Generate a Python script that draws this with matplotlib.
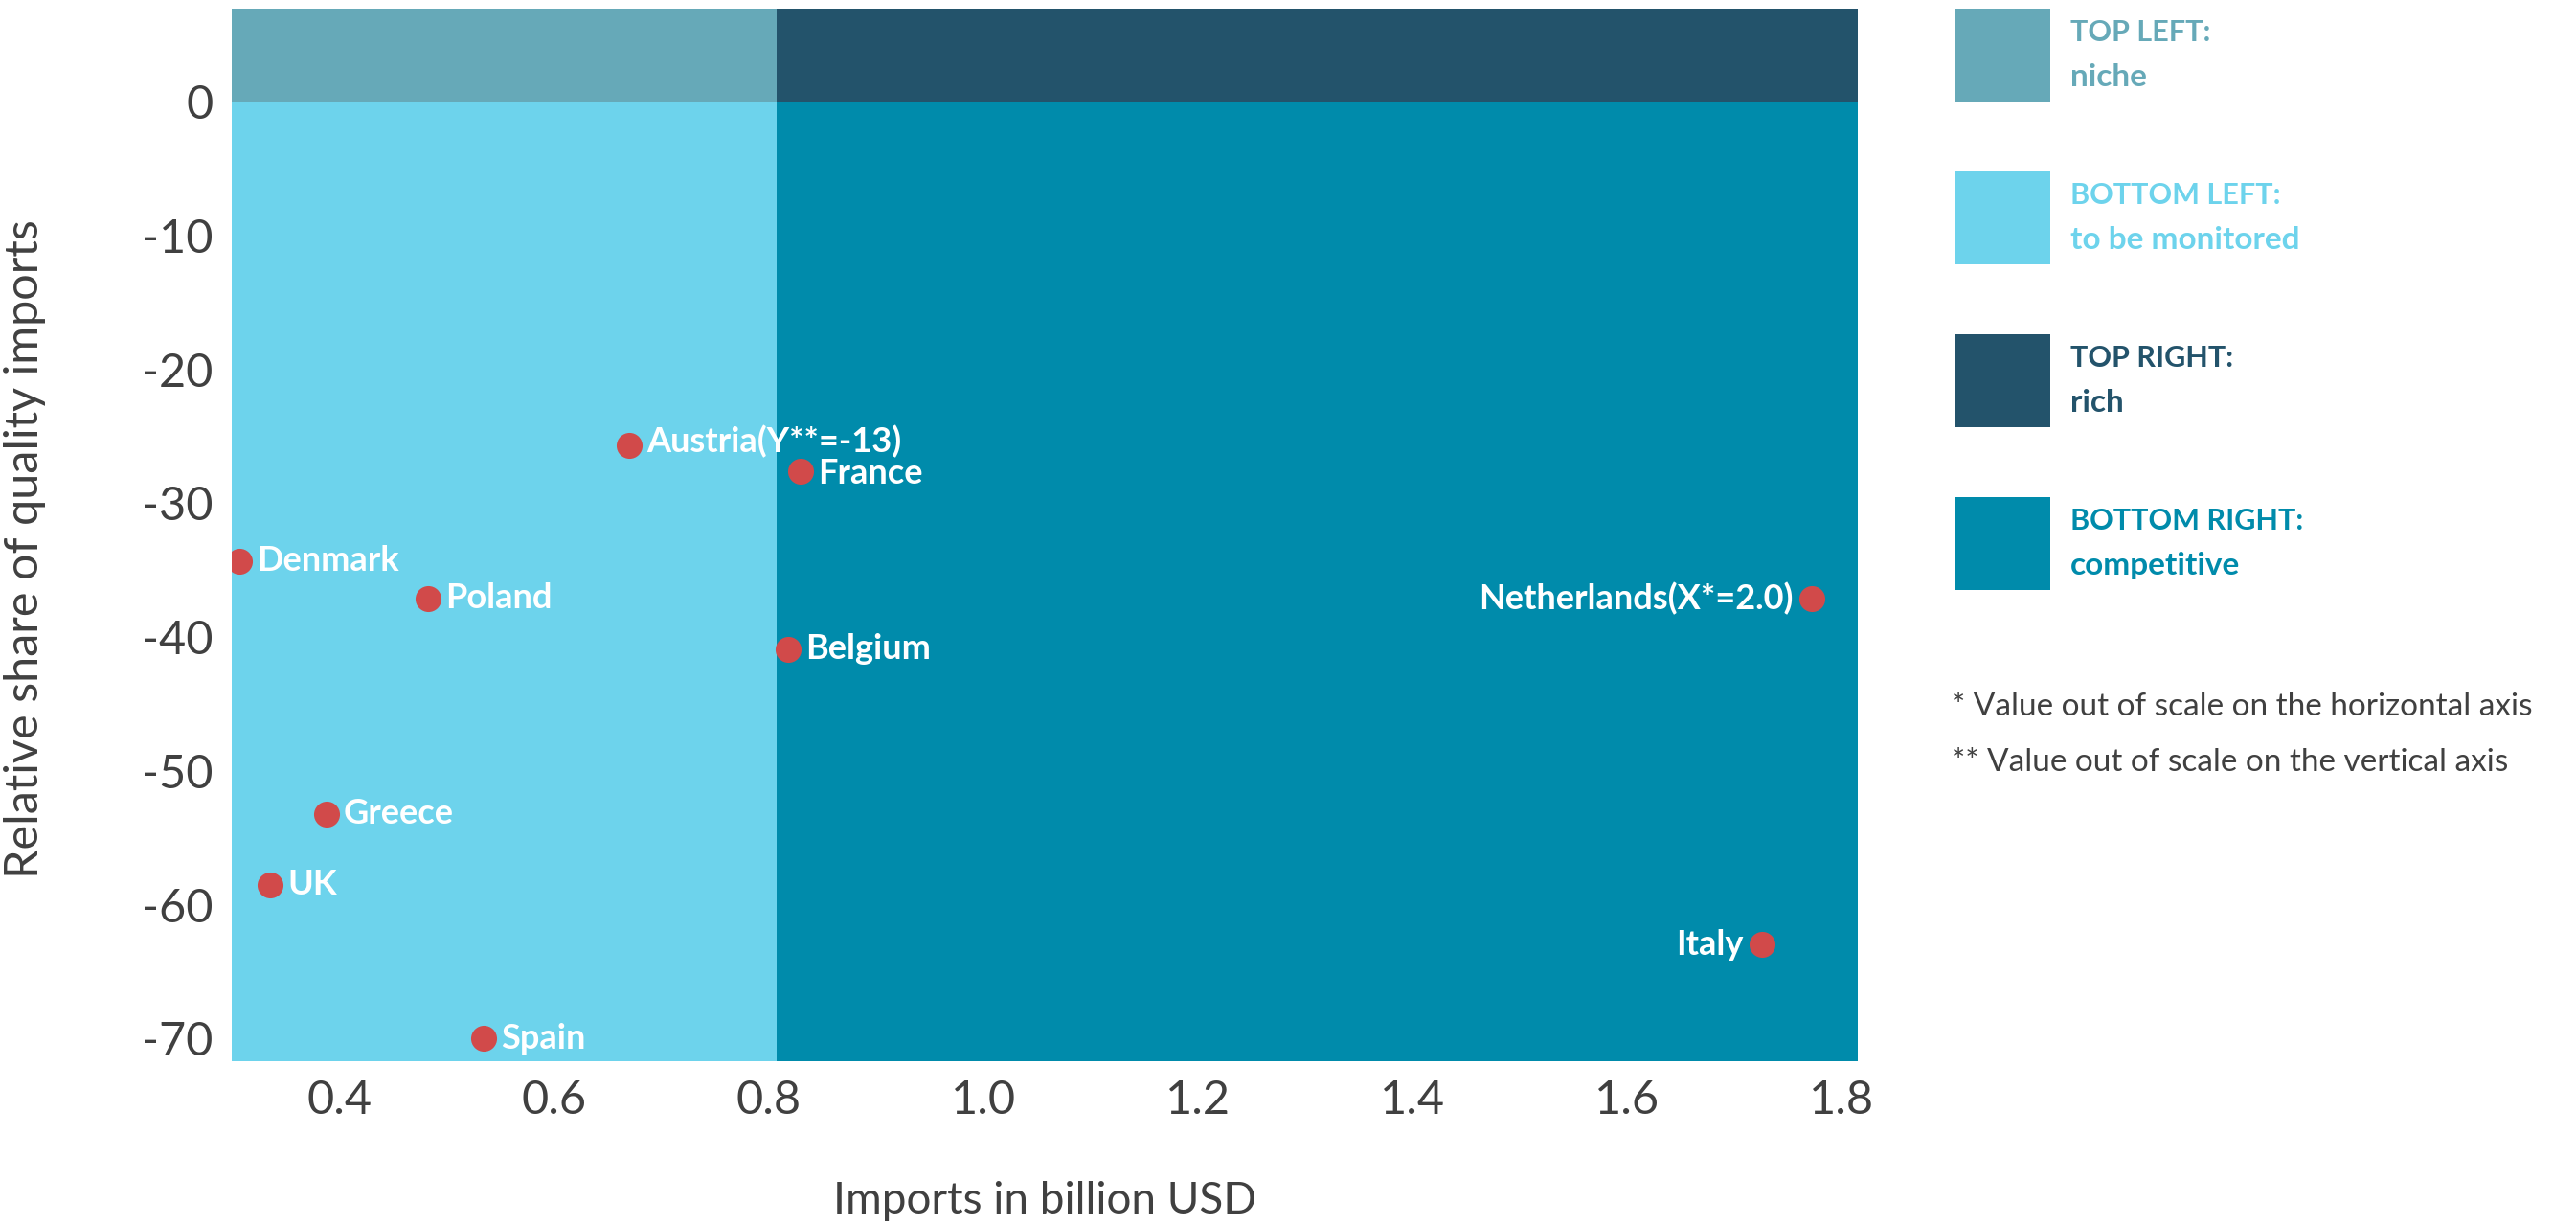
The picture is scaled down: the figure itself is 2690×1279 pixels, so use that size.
import matplotlib.pyplot as plt
from matplotlib.patches import Rectangle

plt.rcParams['font.family'] = ['Lato', 'DejaVu Sans']
plt.rcParams['axes.unicode_minus'] = False

# data
countries = ["Denmark", "Poland", "Austria(Y**=-13)", "France", "Belgium",
             "Greece", "UK", "Spain", "Netherlands(X*=2.0)", "Italy"]
imports = [0.307, 0.483, 0.670, 0.830, 0.818, 0.388, 0.336, 0.535, 1.772, 1.726]
quality_share = [-34.3, -37.1, -25.7, -27.6, -40.9, -53.2, -58.5, -70.0, -37.1, -63.0]
label_left = ["Netherlands(X*=2.0)", "Italy"]

x_split = 0.808
y_split = 0
x_min, x_max = 0.3, 1.815
y_min, y_max = -71.7, 7

quadrants = ["TOP LEFT:", "BOTTOM LEFT:", "TOP RIGHT:", "BOTTOM RIGHT:"]
quadrant_names = ["niche", "to be monitored", "rich", "competitive"]
quadrant_colors = ["#66a9b8", "#6dd3ec", "#23536b", "#008bab"]

fig = plt.figure(figsize=(26.9, 12.79), dpi=100)
ax = fig.add_axes([0.09, 0.1337, 0.6312, 0.8596])

# quadrant backgrounds
ax.add_patch(Rectangle((x_min, y_split), x_split - x_min, y_max - y_split,
                       color=quadrant_colors[0], lw=0, zorder=0))
ax.add_patch(Rectangle((x_min, y_min), x_split - x_min, y_split - y_min,
                       color=quadrant_colors[1], lw=0, zorder=0))
ax.add_patch(Rectangle((x_split, y_split), x_max - x_split, y_max - y_split,
                       color=quadrant_colors[2], lw=0, zorder=0))
ax.add_patch(Rectangle((x_split, y_min), x_max - x_split, y_split - y_min,
                       color=quadrant_colors[3], lw=0, zorder=0))

ax.scatter(imports, quality_share, s=380, color="#d14a4a", zorder=3, lw=0)
for name, x, y in zip(countries, imports, quality_share):
    if name in label_left:
        ax.annotate(name, (x, y), xytext=(-14, 0), textcoords="offset points",
                    ha="right", va="center", color="white", fontsize=26,
                    fontweight="bold", zorder=4)
    else:
        dy = 0
        if name.startswith("Austria"):
            dy = 3
        elif name == "France":
            dy = -2
        ax.annotate(name, (x, y), xytext=(13, dy), textcoords="offset points",
                    ha="left", va="center", color="white", fontsize=26,
                    fontweight="bold", zorder=4)

ax.set_xlim(x_min, x_max)
ax.set_ylim(y_min, y_max)
ax.set_xticks([0.4, 0.6, 0.8, 1.0, 1.2, 1.4, 1.6, 1.8])
ax.set_xticklabels(["0.4", "0.6", "0.8", "1.0", "1.2", "1.4", "1.6", "1.8"])
ax.set_yticks([0, -10, -20, -30, -40, -50, -60, -70])
ax.tick_params(length=0, labelsize=35, labelcolor="#404040", pad=14)
for sp in ax.spines.values():
    sp.set_visible(False)

fig.text(0.4056, 0.0195, "Imports in billion USD", ha="center", va="center",
         fontsize=33, color="#404040")
fig.text(0.0096, 0.552, "Relative share of quality imports", ha="center",
         va="center", rotation=90, fontsize=35, color="#404040")

# legend boxes on the right
for i in range(4):
    top = 0.9933 - i * 0.1329
    fig.add_artist(Rectangle((0.759, top - 0.0765), 0.037, 0.0765,
                             transform=fig.transFigure,
                             color=quadrant_colors[i], lw=0))
    fig.text(0.8037, top - 0.020, quadrants[i], ha="left", va="center",
             fontsize=22, fontweight="bold", color=quadrant_colors[i])
    fig.text(0.8037, top - 0.056, quadrant_names[i], ha="left", va="center",
             fontsize=24, fontweight="bold", color=quadrant_colors[i])

fig.text(0.7577, 0.423, "* Value out of scale on the horizontal axis",
         ha="left", va="center", fontsize=24, color="#404040")
fig.text(0.7577, 0.3776, "** Value out of scale on the vertical axis",
         ha="left", va="center", fontsize=24, color="#404040")

fig.savefig("out.png", dpi=100)
